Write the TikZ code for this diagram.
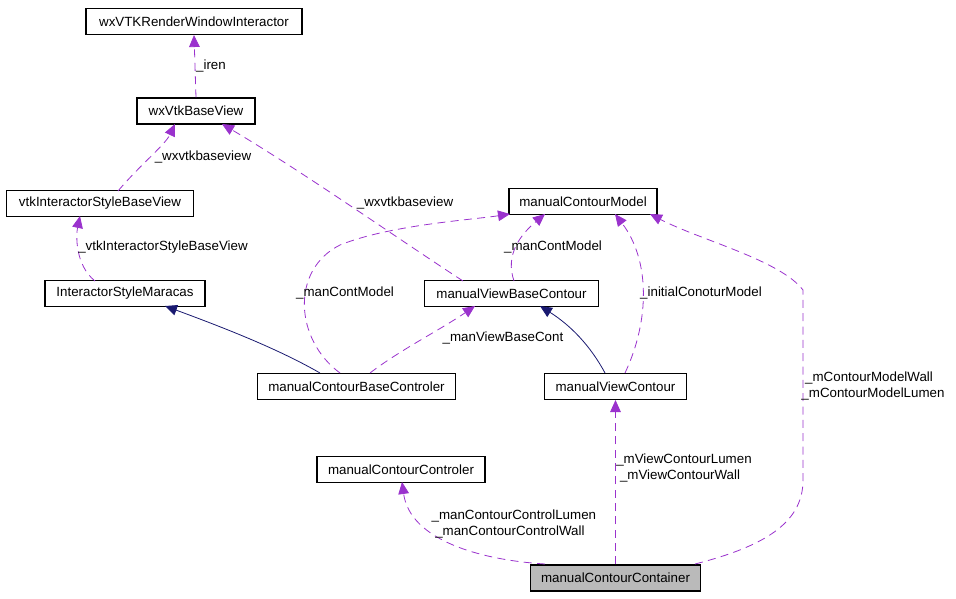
\documentclass[tikz,border=0pt]{standalone}
\usepackage{fontspec}
\setmainfont{Liberation Sans}
\usetikzlibrary{arrows.meta}
\definecolor{pu}{HTML}{9A32CD}
\definecolor{nv}{HTML}{191970}
\begin{document}
\begin{tikzpicture}[x=0.75pt,y=-0.75pt,font=\fontsize{10pt}{12pt}\selectfont,
  box/.style={draw,line width=0.8pt,minimum height=19.5pt,inner sep=0pt,anchor=center},
  use/.style={draw=pu,dashed,dash pattern=on 6pt off 4pt,line width=0.6pt,-{Triangle[length=9pt,width=8pt,fill=pu]}},
  inh/.style={draw=nv,line width=0.6pt,-{Triangle[length=9pt,width=8pt,fill=nv]}},
  lab/.style={align=left,inner sep=0pt}]
\useasboundingbox (0,0) rectangle (956,599);
\node[box,minimum width=162pt] (wr) at (194,21.5) {wxVTKRenderWindowInteractor};
\node[box,minimum width=88.5pt] (bv) at (196,111) {wxVtkBaseView};
\node[box,minimum width=140pt] (is) at (100,203.5) {vtkInteractorStyleBaseView};
\node[box,minimum width=120pt] (im) at (125,293.5) {InteractorStyleMaracas};
\node[box,minimum width=111pt] (cm) at (583,201.5) {manualContourModel};
\node[box,minimum width=130pt] (vb) at (511.5,293.5) {manualViewBaseContour};
\node[box,minimum width=148pt] (cb) at (356.5,386.5) {manualContourBaseControler};
\node[box,minimum width=106pt] (vc) at (615.5,386.5) {manualViewContour};
\node[box,minimum width=126pt] (cc) at (401,469.5) {manualContourControler};
\node[box,minimum width=128pt,fill=black!27] (co) at (615.5,578) {manualContourContainer};

\draw[use] (bv.north) -- (wr.north |- wr.south);
\node[lab] (l1) at (211,66) {\_iren};
\draw[use] (118,191) .. controls (140,165) and (165,145) .. (175,124);
\node[lab] (l2) at (203,157) {\_wxvtkbaseview};
\draw[use] (95,281) .. controls (75,265) and (76,235) .. (80,216);
\node[lab] (l3) at (163,247) {\_vtkInteractorStyleBaseView};
\draw[inh] (320,373) .. controls (280,350) and (230,330) .. (165,306);
\draw[use] (463,281) .. controls (400,240) and (300,170) .. (222,124);
\node[lab] (l4) at (405,203) {\_wxvtkbaseview};
\draw[use] (340,373) .. controls (295,340) and (290,270) .. (340,245) .. controls (390,225) and (470,220) .. (510,214);
\node[lab] (l5) at (345,293) {\_manContModel};
\draw[use] (514,281) .. controls (505,255) and (520,235) .. (545,214);
\node[lab] (l6) at (553,247) {\_manContModel};
\draw[use] (370,373) .. controls (400,350) and (440,330) .. (475,306);
\node[lab] (l7) at (503,338) {\_manViewBaseCont};
\draw[inh] (605,373) .. controls (590,345) and (570,325) .. (540,306);
\draw[use] (625,373) .. controls (650,320) and (650,260) .. (615,214);
\node[lab] (l8) at (701,293) {\_initialConoturModel};
\draw[use] (co.north) -- (vc.south);
\node[lab] (l9) at (684,468) {\_mViewContourLumen\\\ \_mViewContourWall};
\draw[use] (545,564) .. controls (480,560) and (410,540) .. (402,482);
\node[lab] (l10) at (512,524) {\ \_manContourControlLumen\\\ \ \_manContourControlWall};
\draw[use] (695,564) .. controls (770,545) and (803,520) .. (803,480) -- (803,290) .. controls (780,260) and (700,240) .. (650,214);
\node[lab] (l11) at (873,386) {\ \_mContourModelWall\\\_mContourModelLumen};
\end{tikzpicture}
\end{document}
